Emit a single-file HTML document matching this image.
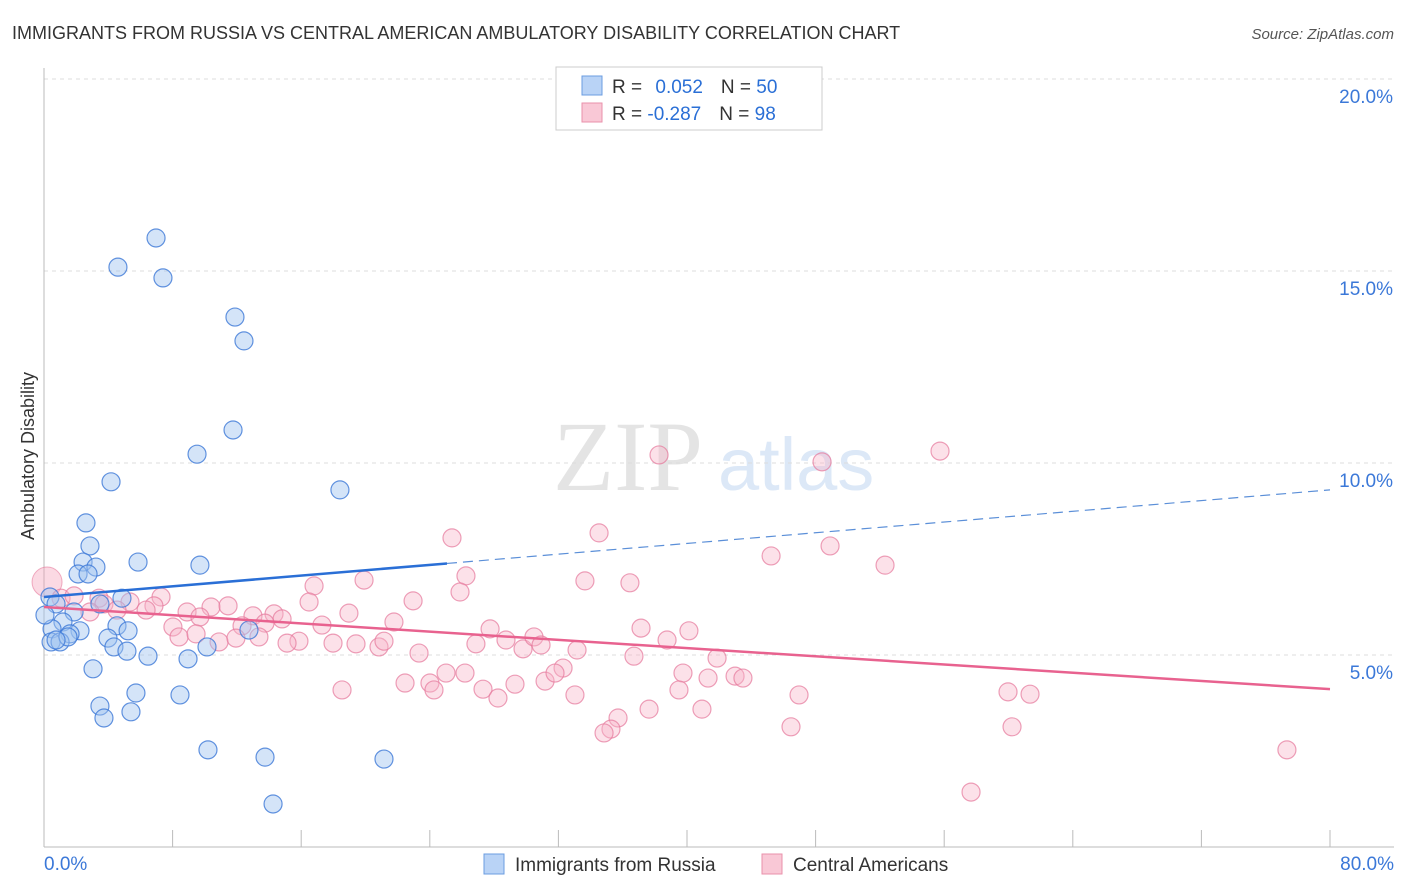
<!DOCTYPE html>
<html><head><meta charset="utf-8">
<style>
body{margin:0;background:#fff;font-family:"Liberation Sans",sans-serif;}
svg{display:block}
</style></head>
<body>
<svg id="chart" width="1406" height="892" xmlns="http://www.w3.org/2000/svg" font-family="Liberation Sans, sans-serif">
<text x="12" y="39" font-size="18" fill="#333">IMMIGRANTS FROM RUSSIA VS CENTRAL AMERICAN AMBULATORY DISABILITY CORRELATION CHART</text>
<text x="1394" y="39" font-size="15" fill="#555" text-anchor="end" font-style="italic">Source: ZipAtlas.com</text>
<text x="553" y="490" font-size="100" fill="#e4e4e4" font-family="Liberation Serif, serif">ZIP</text>
<text x="718" y="490" font-size="74" fill="#dce8f7">atlas</text>
<text transform="translate(34,456) rotate(-90)" font-size="18" fill="#333" text-anchor="middle">Ambulatory Disability</text>
<g id="grid"></g>
<g id="axes"></g>
<g id="pts"></g>
<g id="lines"></g>
<g>
<rect x="556" y="67" width="266" height="63" fill="#fff" stroke="#ccc"/>
<rect x="582" y="76" width="20" height="19" fill="#b9d3f6" stroke="#6b9de0"/>
<rect x="582" y="103" width="20" height="19" fill="#f9c8d6" stroke="#e991ab"/>
<text x="612" y="93" font-size="19" fill="#333">R = <tspan fill="#2a6fd6" dx="8">0.052</tspan><tspan dx="18">N = </tspan><tspan fill="#2a6fd6">50</tspan></text>
<text x="612" y="120" font-size="19" fill="#333">R = <tspan fill="#2a6fd6">-0.287</tspan><tspan dx="18">N = </tspan><tspan fill="#2a6fd6">98</tspan></text>
</g>
<g>
<rect x="484" y="854" width="20" height="20" fill="#b9d3f6" stroke="#6b9de0"/>
<text x="515" y="871" font-size="19" fill="#333">Immigrants from Russia</text>
<rect x="762" y="854" width="20" height="20" fill="#f9c8d6" stroke="#e991ab"/>
<text x="793" y="871" font-size="19" fill="#333">Central Americans</text>
</g>
</svg>
<script>
const blueX=[6.97,4.60,7.40,11.88,12.44,11.76,9.52,4.17,18.41,2.61,2.86,2.43,5.85,9.70,3.23,2.12,2.74,0.37,0.75,4.85,3.48,1.87,1.18,4.54,5.23,2.24,1.62,12.75,0.50,3.98,0.44,1.00,1.49,4.35,5.16,6.47,8.96,10.14,3.05,5.72,8.46,3.48,5.41,3.73,10.20,13.75,21.15,14.25,0.75,0.06];
const blueY=[15.86,15.10,14.82,13.80,13.18,10.86,10.23,9.51,9.30,8.44,7.84,7.42,7.42,7.34,7.29,7.11,7.11,6.51,6.33,6.48,6.33,6.12,5.86,5.76,5.63,5.63,5.55,5.65,5.68,5.44,5.34,5.34,5.47,5.21,5.10,4.97,4.90,5.21,4.64,4.01,3.96,3.67,3.52,3.36,2.53,2.34,2.29,1.12,5.39,6.04];
const pinkX=[55.74,38.26,48.40,34.53,25.38,48.90,45.23,52.32,26.25,33.65,36.45,19.91,16.80,25.88,1.06,1.87,3.42,5.35,7.28,6.84,3.73,2.86,4.54,6.35,8.90,10.39,11.45,13.00,14.31,14.81,16.49,18.97,22.96,9.70,8.02,12.32,13.75,17.29,21.77,27.75,37.14,40.12,8.40,9.46,10.89,11.94,13.37,15.86,15.12,17.98,19.41,20.84,21.15,23.33,26.87,28.74,29.80,30.48,30.92,33.16,38.76,36.70,41.87,32.29,25.01,22.46,24.01,26.19,31.17,31.79,18.54,24.26,27.31,28.24,29.30,33.03,39.75,39.50,41.31,42.99,43.48,46.97,59.97,61.34,37.64,40.93,35.71,35.27,34.84,46.47,60.22,77.32,57.67];
const pinkY=[10.31,10.21,10.03,8.18,8.05,7.84,7.58,7.34,7.06,6.93,6.88,6.95,6.80,6.64,6.48,6.54,6.48,6.38,6.51,6.28,6.33,6.12,6.17,6.17,6.12,6.25,6.28,6.02,6.07,5.94,6.38,6.09,6.41,5.99,5.73,5.76,5.83,5.78,5.86,5.68,5.70,5.63,5.47,5.55,5.34,5.44,5.47,5.36,5.31,5.31,5.29,5.21,5.36,5.05,5.29,5.39,5.16,5.47,5.26,5.13,5.39,4.97,4.92,4.66,4.53,4.27,4.27,4.53,4.32,4.53,4.09,4.09,4.11,3.88,4.24,3.96,4.53,4.09,4.40,4.45,4.40,3.96,4.04,3.98,3.59,3.59,3.36,3.07,2.97,3.13,3.13,2.53,1.43];
const bigPink=[0.19,6.90];
const blueTrend=[6.51,9.30]; // y at x=0 and x=80
const blueSolidEnd=25.07;
const pinkTrend=[6.25,4.11];
const yTicks=[5,10,15,20];
const yTickLabels=["5.0%","10.0%","15.0%","20.0%"];
const xTicks=[0,8,16,24,32,40,48,56,64,72,80];

const NS="http://www.w3.org/2000/svg";
const sx=v=>44+v*16.075, sy=v=>847-v*38.4;
function mk(tag,attrs,parent){const e=document.createElementNS(NS,tag);for(const k in attrs)e.setAttribute(k,attrs[k]);document.getElementById(parent).appendChild(e);return e;}
yTicks.forEach((t,i)=>{
 const l=mk('line',{x1:44,x2:1394,y1:sy(t),y2:sy(t),stroke:'#ddd','stroke-dasharray':'4,4'},'grid');
 
 
 const tx=mk('text',{x:1393,y:sy(t)+24,'font-size':19,fill:'#3b78d8','text-anchor':'end'},'grid');
 tx.textContent=yTickLabels[i];
 
 
});
const ax=mk('line',{x1:44,x2:1394,y1:847,y2:847,stroke:'#bbb'},'axes');


const ay=mk('line',{x1:44,x2:44,y1:68,y2:847,stroke:'#bbb'},'axes');


xTicks.forEach(t=>{
 const l=mk('line',{x1:sx(t),x2:sx(t),y1:830,y2:847,stroke:'#bbb'},'axes');
 
 
});
const x0=mk('text',{x:44,y:870,'font-size':19,fill:'#3b78d8'},'axes');x0.textContent='0.0%';


const x1=mk('text',{x:1394,y:870,'font-size':19,fill:'#3b78d8','text-anchor':'end'},'axes');x1.textContent='80.0%';



const bp=mk('circle',{cx:sx(bigPink[0]),cy:sy(bigPink[1]),r:15,fill:'rgba(244,160,186,0.4)',stroke:'rgba(230,120,155,0.6)'},'pts');


pinkX.forEach((x,i)=>{
 const c=mk('circle',{cx:sx(x),cy:sy(pinkY[i]),r:9,fill:'rgba(248,180,200,0.4)',stroke:'rgba(230,120,155,0.7)','stroke-width':1.2},'pts');
 
 
});
blueX.forEach((x,i)=>{
 const c=mk('circle',{cx:sx(x),cy:sy(blueY[i]),r:9,fill:'rgba(160,195,240,0.45)',stroke:'rgba(60,120,215,0.8)','stroke-width':1.2},'pts');
 
 
});
const by=v=>blueTrend[0]+(blueTrend[1]-blueTrend[0])*v/80;
const bl=mk('line',{x1:sx(0),y1:sy(by(0)),x2:sx(blueSolidEnd),y2:sy(by(blueSolidEnd)),stroke:'#2a6fd6','stroke-width':2.5},'lines');


const bd=mk('line',{x1:sx(blueSolidEnd),y1:sy(by(blueSolidEnd)),x2:sx(80),y2:sy(by(80)),stroke:'#5b8fd8','stroke-width':1.2,'stroke-dasharray':'10,6'},'lines');


const pl=mk('line',{x1:sx(0),y1:sy(pinkTrend[0]),x2:sx(80),y2:sy(pinkTrend[1]),stroke:'#e8628f','stroke-width':2.5},'lines');


</script>
</body></html>
